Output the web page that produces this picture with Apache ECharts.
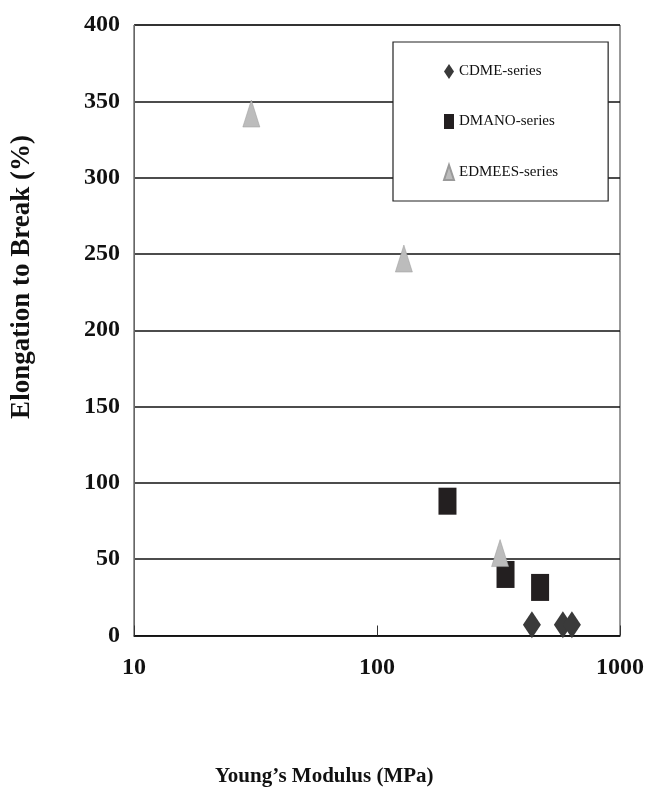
<!DOCTYPE html>
<html>
<head>
<meta charset="utf-8">
<script src="https://cdn.jsdelivr.net/npm/echarts@6/dist/echarts.min.js"></script>
<style>html,body{margin:0;padding:0;background:#fff;}#c{width:649px;height:803px;}</style>
</head>
<body>
<div id="c"></div>
<script>
// Data (x: Young's Modulus MPa, y: Elongation %)
const seriesNames = ['CDME-series', 'DMANO-series', 'EDMEES-series'];
const cdmeX = [434, 582, 634];
const cdmeY = [7, 7, 7];
const dmanoX = [195, 338, 469];
const dmanoY = [88, 40, 31.5];
const edmeesX = [30.4, 129, 321];
const edmeesY = [342, 247, 54];
const yTicks = [0, 50, 100, 150, 200, 250, 300, 350, 400];
const xTicks = [10, 100, 1000];

function pairs(xs, ys) { return xs.map((x, i) => [x, ys[i]]); }

const chart = echarts.init(document.getElementById('c'));
const serif = '"Liberation Serif", "DejaVu Serif", serif';
chart.setOption({
  backgroundColor: '#fff',
  animation: false,
  grid: { left: 134, top: 25, right: 29, bottom: 167.5, show: true, borderColor: '#333', borderWidth: 1, backgroundColor: 'transparent' },
  legend: {
    orient: 'vertical', left: 393, top: 42,
    padding: [22, 50, 20, 50], itemGap: 35,
    itemWidth: 10, itemHeight: 15,
    borderColor: '#222', borderWidth: 1.2,
    backgroundColor: '#fff',
    textStyle: { fontFamily: serif, fontSize: 15, color: '#111' },
    data: seriesNames
  },
  xAxis: {
    type: 'log', logBase: 10, min: xTicks[0], max: xTicks[xTicks.length - 1],
    axisLine: { show: true, lineStyle: { color: '#111', width: 1.5 } },
    axisTick: { show: true, inside: true, length: 10, lineStyle: { color: '#333', width: 1 } },
    axisLabel: { fontFamily: serif, fontWeight: 'bold', fontSize: 24, color: '#111', margin: 20,
      formatter: function (v) { return String(Math.round(v)); } },
    splitLine: { show: false }
  },
  yAxis: {
    type: 'value', min: yTicks[0], max: yTicks[yTicks.length - 1], interval: 50,
    axisLine: { show: true, lineStyle: { color: '#666', width: 1 } },
    axisTick: { show: false },
    axisLabel: { fontFamily: serif, fontWeight: 'bold', fontSize: 24, color: '#111', margin: 14 },
    splitLine: { show: true, lineStyle: { color: '#111', width: 1.5 } }
  },
  graphic: [
    { type: 'text', left: 215, top: 766,
      style: { text: 'Young\u2019s Modulus (MPa)', font: 'bold 21px ' + serif, fill: '#111' } },
    { type: 'text', x: 22, y: 277, rotation: Math.PI / 2,
      style: { text: 'Elongation to Break (%)', font: 'bold 27px ' + serif, fill: '#111', align: 'center', verticalAlign: 'middle' } }
  ],
  series: [
    { name: seriesNames[0], type: 'scatter', symbol: 'diamond', symbolSize: [18, 27],
      itemStyle: { color: '#3a3a3a', opacity: 1 }, data: pairs(cdmeX, cdmeY) },
    { name: seriesNames[1], type: 'scatter', symbol: 'rect', symbolSize: [18, 27],
      itemStyle: { color: '#231f20', opacity: 1 }, data: pairs(dmanoX, dmanoY) },
    { name: seriesNames[2], type: 'scatter', symbol: 'triangle', symbolSize: [17, 27],
      itemStyle: { color: '#bcbcbc', borderColor: '#9a9a9a', borderWidth: 0.5, opacity: 1 }, data: pairs(edmeesX, edmeesY) }
  ]
});
</script>
</body>
</html>
